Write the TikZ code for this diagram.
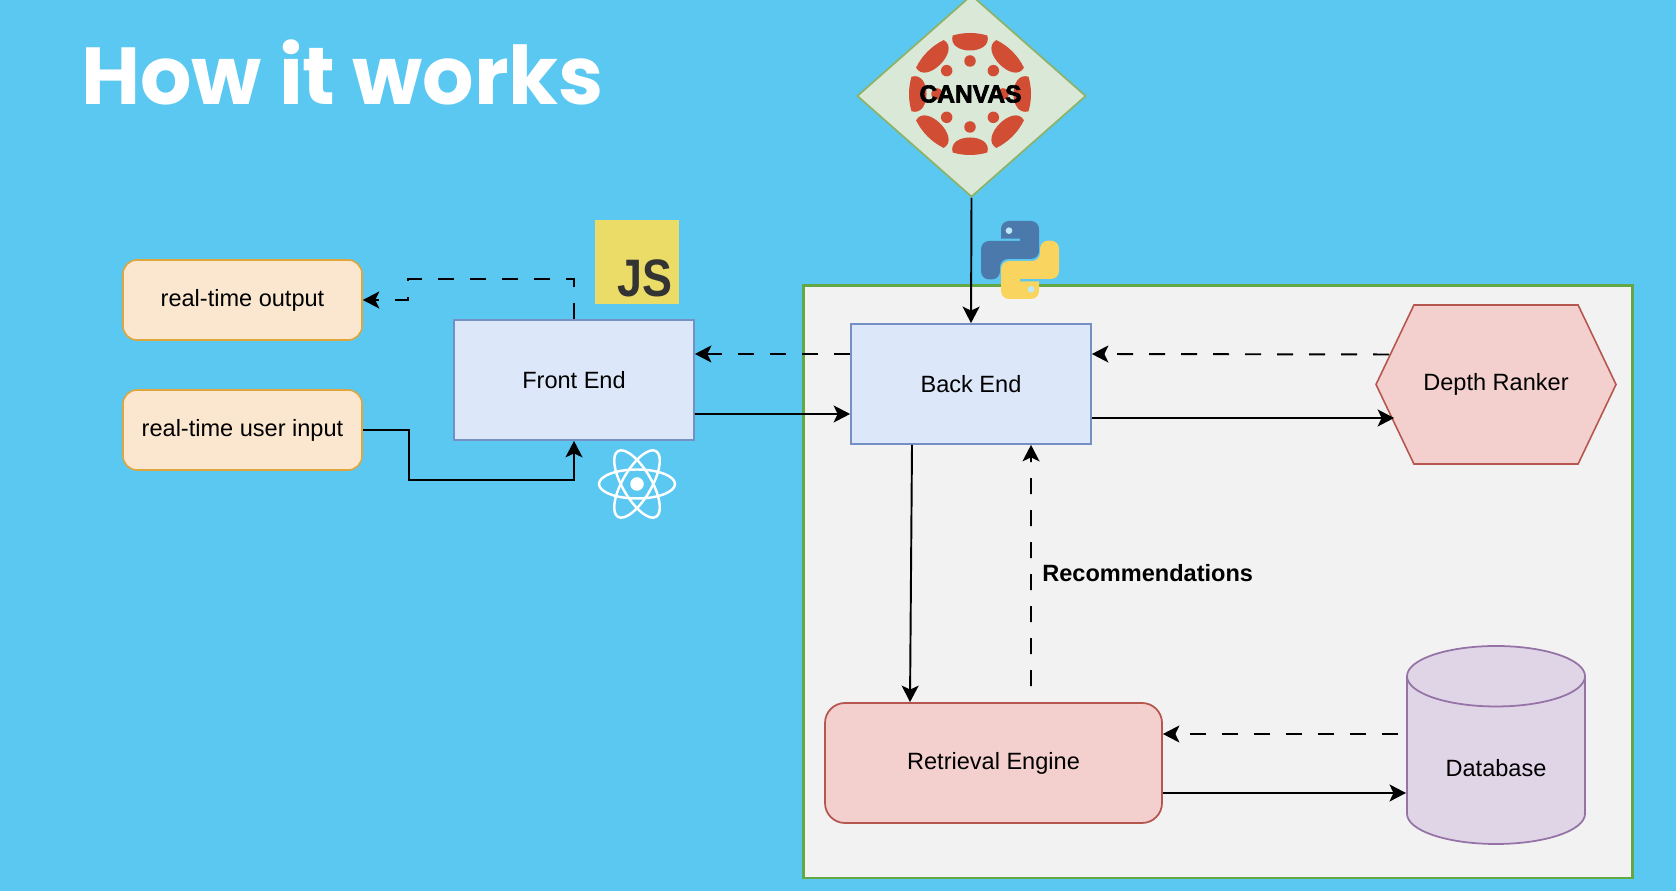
\documentclass[tikz,border=0pt]{standalone}
\usepackage{fontspec}
\setmainfont{Liberation Sans}
\newfontfamily\titlefont{Poppins}
\newfontfamily\jsfont[FakeStretch=0.85]{Liberation Sans}
\newfontfamily\canvasfont[BoldFeatures={FakeBold=2.5}]{Liberation Sans}
\usetikzlibrary{arrows.meta,shapes.geometric,shapes.symbols}
\definecolor{bgblue}{HTML}{5AC8F1}
\definecolor{blueface}{HTML}{DCE7F9}
\definecolor{blueline}{HTML}{7590C4}
\definecolor{orangeface}{HTML}{FBE7D0}
\definecolor{orangeline}{HTML}{E0A63C}
\definecolor{redface}{HTML}{F3D0CE}
\definecolor{redline}{HTML}{B5564F}
\definecolor{purpleface}{HTML}{E0D5E7}
\definecolor{purpleline}{HTML}{9673A6}
\definecolor{greenface}{HTML}{DAE8D7}
\definecolor{greenline}{HTML}{8DB36B}
\definecolor{panelface}{HTML}{F2F2F2}
\definecolor{panelline}{HTML}{63A844}
\definecolor{canvasred}{HTML}{D14D33}
\definecolor{jsyellow}{HTML}{EBDC67}
\definecolor{pyblue}{HTML}{4B79AB}
\definecolor{pyyellow}{HTML}{F9D55F}
\tikzset{
	label font/.style={font=\fontsize{13.4}{16}\selectfont},
	flowbox/.style={draw=blueline, fill=blueface, line width=1pt, minimum width=4.8cm, minimum height=2.4cm, label font},
	iobox/.style={draw=orangeline, fill=orangeface, line width=0.9pt, rounded corners=0.28cm, minimum width=4.78cm, minimum height=1.6cm, label font},
	solidarrow/.style={draw=black, line width=1.1pt, -{Stealth[length=0.33cm, width=0.34cm, inset=0.08cm]}},
	dasharrow/.style={solidarrow, dash pattern=on 0.32cm off 0.32cm},
}
\begin{document}
\begin{tikzpicture}
	\useasboundingbox (0,0) rectangle (33.52,17.82);
	\fill[bgblue] (0,0) rectangle (33.52,17.82);
	\node[white, anchor=base west, inner sep=0pt, font=\titlefont\bfseries\fontsize{46}{56}\selectfont] (title) at (1.62,15.72) {How it works};
	\node[draw=panelline, fill=panelface, line width=1.7pt, minimum width=16.58cm, minimum height=11.84cm] (panel) at (24.35,6.18) {};
	\node[diamond, draw=greenline, fill=greenface, line width=1pt, aspect=1.13, inner sep=0pt, minimum width=4.58cm, minimum height=4.04cm] (canvas) at (19.43,15.90) {};
	\begin{scope}[shift={(19.40,15.94)}]
		\foreach \ang in {0,90,180,270} {
			\fill[canvasred, rotate=\ang] (-16.5:1.22) arc (-16.5:16.5:1.22) .. controls (0.77,0.46) and (0.77,-0.46) .. (-16.5:1.22);
			\fill[canvasred, rotate=\ang] (0.66,0) circle (0.115);
			\fill[canvasred, rotate=\ang+45] (-19:1.2) arc (-19:19:1.2) .. controls (0.74,0.50) and (0.74,-0.50) .. (-19:1.2);
			\fill[canvasred, rotate=\ang+45] (0.66,0) circle (0.115);
		}
	\end{scope}
	\node[black, inner sep=0pt, font=\canvasfont\bfseries\fontsize{14}{16}\selectfont] (canvaslabel) at (19.41,15.94) {CANVAS};
	\node[flowbox] (frontend) at (11.48,10.22) {Front End};
	\node[flowbox] (backend) at (19.42,10.14) {Back End};
	\node[iobox] (output) at (4.85,11.82) {real-time output};
	\node[iobox] (input) at (4.85,9.22) {real-time user input};
	\node[signal, signal from=nowhere, signal to=west and east, signal pointer angle=129, draw=redline, fill=redface, line width=0.9pt, inner sep=0pt, minimum width=4.8cm, minimum height=3.18cm, label font] (depth) at (29.92,10.13) {Depth Ranker};
	\node[draw=redline, fill=redface, line width=1pt, rounded corners=0.4cm, minimum width=6.74cm, minimum height=2.4cm, label font] (retrieval) at (19.87,2.56) {Retrieval Engine};
	\node[cylinder, shape border rotate=90, aspect=0.6, draw=purpleline, fill=purpleface, line width=1pt, inner sep=0pt, minimum width=3.56cm, minimum height=3.96cm, anchor=shape center, label font] (database) at (29.92,2.92) {\raisebox{-0.14cm}[\height][0pt]{Database}};
	\node[black, anchor=west, inner sep=0pt, font=\bfseries\fontsize{13.4}{16}\selectfont] (recommend) at (20.84,6.36) {Recommendations};
	\draw[solidarrow] (canvas.south) -- (backend.north);
	\draw[dasharrow] ([yshift=0.6cm]backend.west) -- ([yshift=0.52cm]frontend.east);
	\draw[solidarrow] ([yshift=-0.68cm]frontend.east) -- ([yshift=-0.6cm]backend.west);
	\draw[dasharrow] (frontend.north) -- ++(0,0.8) -- ++(-3.32,0) |- (output.east);
	\draw[solidarrow] (input.east) -- ++(0.92,0) -- ++(0,-1) -| (frontend.south);
	\draw[dasharrow] ([xshift=0.28cm,yshift=0.6cm]depth.west) -- ([yshift=0.6cm]backend.east);
	\draw[solidarrow] ([yshift=-0.68cm]backend.east) -- ([xshift=0.38cm,yshift=-0.67cm]depth.west);
	\draw[solidarrow] ([xshift=-1.18cm]backend.south) -- ([xshift=-1.67cm]retrieval.north);
	\draw[dasharrow] ([xshift=0.75cm,yshift=0.32cm]retrieval.north) -- ([xshift=1.2cm]backend.south);
	\draw[dasharrow] ([xshift=-1.96cm,yshift=0.22cm]database.shape center) -- ([yshift=0.58cm]retrieval.east);
	\draw[solidarrow] ([yshift=-0.6cm]retrieval.east) -- ([xshift=-1.8cm,yshift=-0.96cm]database.shape center);
	\node[fill=jsyellow, inner sep=0pt, minimum size=1.68cm] (jsicon) at (12.74,12.57) {};
	\node[black!80, inner sep=0pt, font=\jsfont\bfseries\fontsize{30}{32}\selectfont] (jstext) at (12.90,12.26) {JS};
	\begin{scope}[shift={(20.40,12.62)}, x=0.00667cm, y=-0.00667cm]
		\foreach \ang/\col in {0/pyblue,180/pyyellow} {
			\fill[\col, rotate=\ang, rounded corners=0.16cm] (-57,-64) -- (-57,-117) -- (57,-117) -- (57,-3) -- (-60,-3) -- (-60,58) -- (-117,58) -- (-117,-57) [sharp corners] -- (0,-57) -- (0,-64) -- cycle;
			\fill[bgblue!40!white, rotate=\ang] (-33,-88) circle (10);
		}
	\end{scope}
	\begin{scope}[shift={(12.74,8.14)}]
		\foreach \ang in {0,60,120} {
			\draw[white, line width=1.4pt, rotate=\ang] (0,0) ellipse (0.76 and 0.29);
		}
		\fill[white] (0,0) circle (0.135);
	\end{scope}
\end{tikzpicture}
\end{document}
